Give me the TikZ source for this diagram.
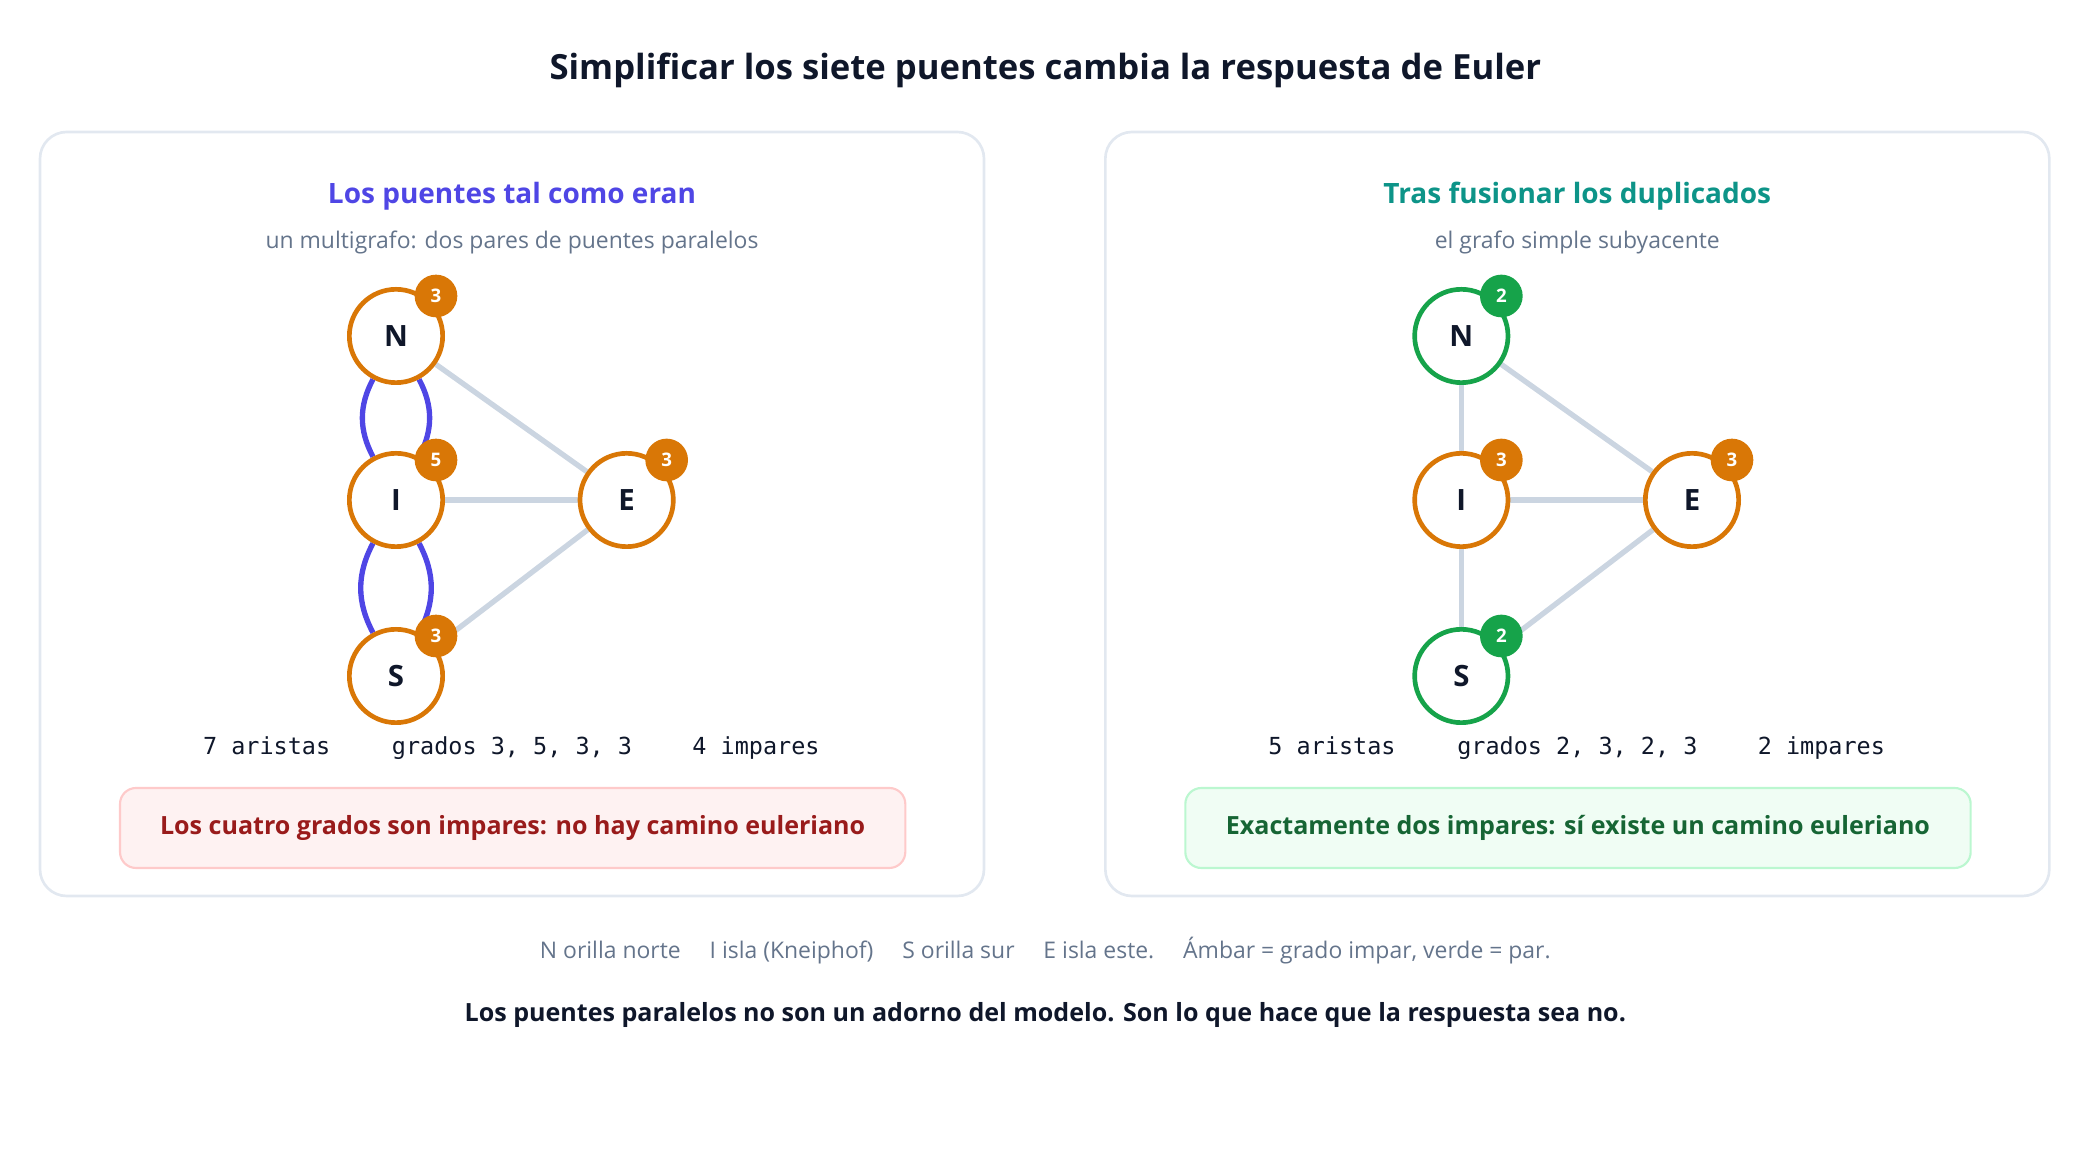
\documentclass[tikz,border=0pt]{standalone}
\usepackage{fontspec}
\setmainfont{Open Sans}
\setmonofont{DejaVu Sans Mono}
\usetikzlibrary{backgrounds}

\definecolor{ink}{HTML}{0F172A}
\definecolor{muted}{HTML}{64748B}
\definecolor{frame}{HTML}{E2E8F0}
\definecolor{edgegray}{HTML}{CBD5E1}
\definecolor{indigo}{HTML}{4F46E5}
\definecolor{teal}{HTML}{0D9488}
\definecolor{amber}{HTML}{D97706}
\definecolor{leaf}{HTML}{16A34A}
\definecolor{redbg}{HTML}{FEF2F2}
\definecolor{redln}{HTML}{FECACA}
\definecolor{redtx}{HTML}{991B1B}
\definecolor{grnbg}{HTML}{F0FDF4}
\definecolor{grnln}{HTML}{BBF7D0}
\definecolor{grntx}{HTML}{166534}

\tikzset{
  panel/.style={draw=frame, line width=1pt, rounded corners=10pt},
  vertex/.style={circle, draw=#1, line width=1.75pt, fill=white, minimum size=35pt,
    inner sep=0pt, text=ink, font=\fontsize{11}{13}\selectfont\bfseries},
  badge/.style={circle, fill=#1, minimum size=16pt, inner sep=0pt, text=white,
    font=\fontsize{7}{8}\selectfont\bfseries},
  bridge/.style={draw=edgegray, line width=2pt},
  pbridge/.style={draw=indigo, line width=2pt},
  stat/.style={anchor=base, text=ink, font=\ttfamily\fontsize{8.8}{10}\selectfont},
  verdict/.style={rounded corners=6pt, line width=0.8pt, minimum width=294.5pt,
    minimum height=30pt, font=\fontsize{9.4}{11}\selectfont\bfseries},
}

\begin{document}
\begin{tikzpicture}[x=0.5pt, y=-0.5pt]
  \useasboundingbox (0,0) rectangle (1560,870);

  \node[text=ink, font=\fontsize{13}{15}\selectfont\bfseries] (title) at (784,53)
    {Simplificar los siete puentes cambia la respuesta de Euler};

  % left panel: the multigraph
  \draw[panel] (30,99) rectangle (738,672);
  \node[text=indigo, font=\fontsize{10.5}{12}\selectfont\bfseries] (ltitle) at (384,147) {Los puentes tal como eran};
  \node[text=muted, font=\fontsize{8.6}{10}\selectfont] (lsub) at (384,182) {un multigrafo: dos pares de puentes paralelos};

  \node[vertex=amber] (lN) at (297,252) {N};
  \node[vertex=amber] (lI) at (297,375) {I};
  \node[vertex=amber] (lS) at (297,507) {S};
  \node[vertex=amber] (lE) at (470,375) {E};
  \foreach \v/\d in {lN/3, lI/5, lS/3, lE/3}
    \node[badge=amber] (\v-deg) at ([shift={(30,-30)}]\v.center) {\d};

  \begin{scope}[on background layer]
    \draw[pbridge] (lN) to[bend right=28] (lI);
    \draw[pbridge] (lN) to[bend left=28] (lI);
    \draw[pbridge] (lI) to[bend right=28] (lS);
    \draw[pbridge] (lI) to[bend left=28] (lS);
    \draw[bridge] (lN) -- (lE);
    \draw[bridge] (lI) -- (lE);
    \draw[bridge] (lS) -- (lE);
  \end{scope}

  \node[stat] (lst1) at (200,566) {7 aristas};
  \node[stat] (lst2) at (384,566) {grados 3, 5, 3, 3};
  \node[stat] (lst3) at (567,566) {4 impares};
  \node[verdict, draw=redln, fill=redbg, text=redtx] (lbox) at (384.5,621)
    {Los cuatro grados son impares: no hay camino euleriano};

  % right panel: the simple graph
  \draw[panel] (829,99) rectangle (1537,672);
  \node[text=teal, font=\fontsize{10.5}{12}\selectfont\bfseries] (rtitle) at (1183,147) {Tras fusionar los duplicados};
  \node[text=muted, font=\fontsize{8.6}{10}\selectfont] (rsub) at (1183,182) {el grafo simple subyacente};

  \node[vertex=leaf] (rN) at (1096,252) {N};
  \node[vertex=amber] (rI) at (1096,375) {I};
  \node[vertex=leaf] (rS) at (1096,507) {S};
  \node[vertex=amber] (rE) at (1269,375) {E};
  \foreach \v/\d/\c in {rN/2/leaf, rI/3/amber, rS/2/leaf, rE/3/amber}
    \node[badge=\c] (\v-deg) at ([shift={(30,-30)}]\v.center) {\d};

  \begin{scope}[on background layer]
    \draw[bridge] (rN) -- (rI);
    \draw[bridge] (rI) -- (rS);
    \draw[bridge] (rN) -- (rE);
    \draw[bridge] (rI) -- (rE);
    \draw[bridge] (rS) -- (rE);
  \end{scope}

  \node[stat] (rst1) at (999,566) {5 aristas};
  \node[stat] (rst2) at (1183,566) {grados 2, 3, 2, 3};
  \node[stat] (rst3) at (1366,566) {2 impares};
  \node[verdict, draw=grnln, fill=grnbg, text=grntx] (rbox) at (1183.5,621)
    {Exactamente dos impares: sí existe un camino euleriano};

  % legend and closing line
  \node[text=muted, font=\fontsize{8.6}{10}\selectfont] (legend) at (784,713)
    {N orilla norte\quad\ I isla (Kneiphof)\quad\ S orilla sur\quad\ E isla este.\quad\ Ámbar = grado impar, verde = par.};
  \node[text=ink, font=\fontsize{9.4}{11}\selectfont\bfseries] (moral) at (784,761)
    {Los puentes paralelos no son un adorno del modelo. Son lo que hace que la respuesta sea no.};
\end{tikzpicture}
\end{document}
